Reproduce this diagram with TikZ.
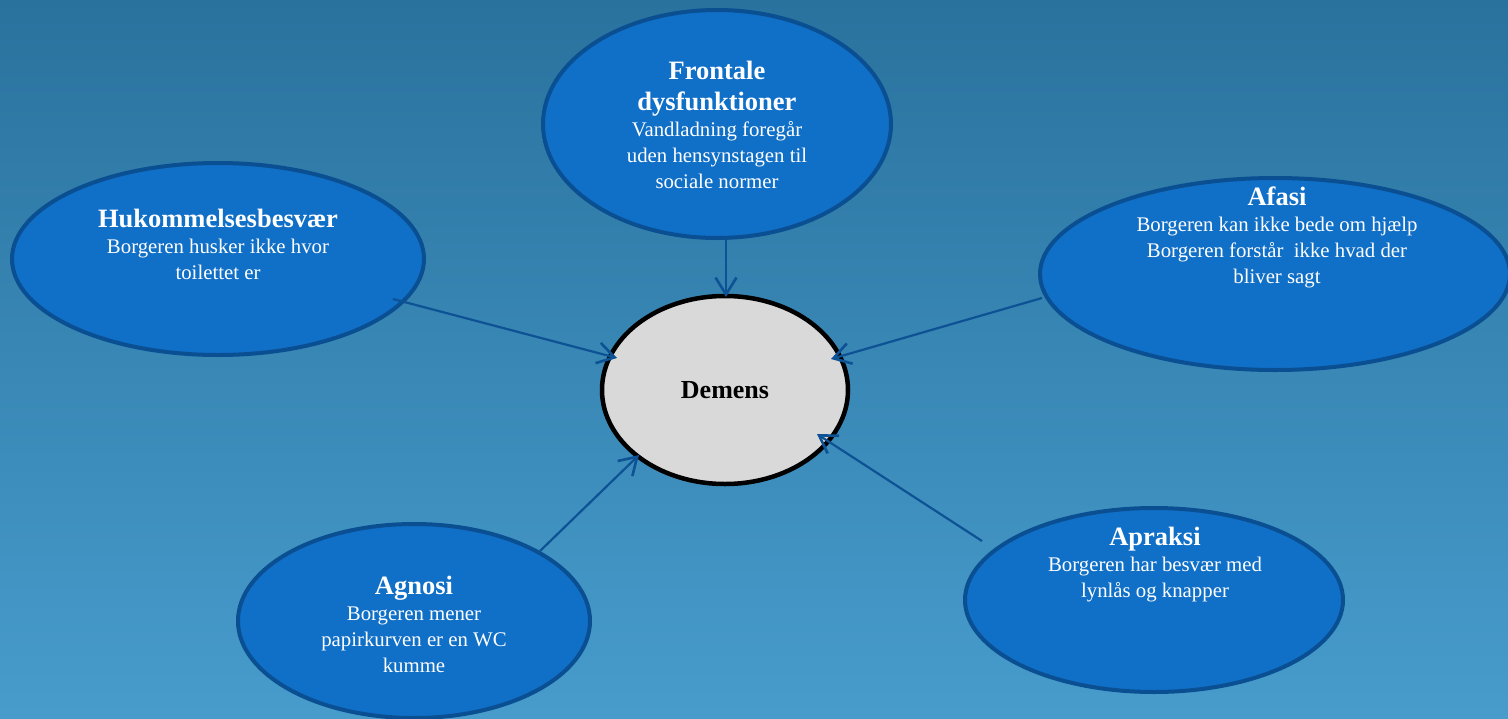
\documentclass[tikz,border=0pt]{standalone}
\usepackage{fontspec}
\setmainfont{Liberation Serif}
\usetikzlibrary{arrows.meta,shapes.geometric}
\definecolor{bgtop}{HTML}{2A729E}
\definecolor{bgbot}{HTML}{479CCC}
\definecolor{ellfill}{HTML}{106FC7}
\definecolor{elldraw}{HTML}{0A4F92}
\definecolor{conncol}{HTML}{0C5294}
\definecolor{demfill}{HTML}{D9D9D9}
\tikzset{
  bubble/.style={ellipse, draw=elldraw, fill=ellfill, line width=4pt, inner sep=0pt},
  core/.style={ellipse, draw=black, fill=demfill, line width=4.5pt, inner sep=0pt},
  btext/.style={align=center, text=white, font=\fontsize{20.8}{26}\selectfont, inner sep=0pt},
  conn/.style={draw=conncol, line width=2.2pt, -{Straight Barb[length=17pt,width=21pt,line width=2.6pt]}},
}
\newcommand{\ttl}[1]{{\fontsize{26.5}{31}\selectfont\bfseries #1}}
\begin{document}
\begin{tikzpicture}[x=1pt,y=-1pt]
\shade[top color=bgtop, bottom color=bgbot] (0,0) rectangle (1508,718);
\useasboundingbox (0,0) rectangle (1508,718);

\node[bubble, minimum width=348pt, minimum height=228pt] (fro) at (717,124) {};
\node[bubble, minimum width=412pt, minimum height=192pt] (huk) at (218,259) {};
\node[bubble, minimum width=470pt, minimum height=192pt] (afa) at (1275,274) {};
\node[bubble, minimum width=352pt, minimum height=194pt] (agn) at (414,621) {};
\node[bubble, minimum width=378pt, minimum height=184pt] (apr) at (1154,600) {};
\node[core, minimum width=246pt, minimum height=188pt] (dem) at (725,390) {};

\node[btext] (frot) at (717,125) {\ttl{Frontale}\\[5pt]\ttl{dysfunktioner}\\Vandladning foregår\\uden hensynstagen til\\sociale normer};
\node[btext] (hukt) at (218,244) {\ttl{Hukommelsesbesvær}\\Borgeren husker ikke hvor\\toilettet er};
\node[btext] (afat) at (1277,237) {\ttl{Afasi}\\Borgeren kan ikke bede om hjælp\\Borgeren forstår\ \ ikke hvad der\\bliver sagt};
\node[btext] (agnt) at (414,624) {\ttl{Agnosi}\\Borgeren mener\\papirkurven er en WC\\kumme};
\node[btext] (aprt) at (1155,565) {\ttl{Apraksi}\\Borgeren har besvær med\\lynlås og knapper};
\node[font=\fontsize{26}{30}\selectfont\bfseries, text=black] (demt) at (725,390) {Demens};

\coordinate (fro-s) at (726,238);
\coordinate (fro-e) at (726,297);
\coordinate (huk-s) at (393,299);
\coordinate (huk-e) at (617,358);
\coordinate (afa-s) at (1042,298);
\coordinate (afa-e) at (831,359);
\coordinate (agn-s) at (540,551);
\coordinate (agn-e) at (639,455);
\coordinate (apr-s) at (982,541);
\coordinate (apr-e) at (817,434);

\draw[conn] (fro-s) -- (fro-e);
\draw[conn] (huk-s) -- (huk-e);
\draw[conn] (afa-s) -- (afa-e);
\draw[conn] (agn-s) -- (agn-e);
\draw[conn] (apr-s) -- (apr-e);
\end{tikzpicture}
\end{document}
